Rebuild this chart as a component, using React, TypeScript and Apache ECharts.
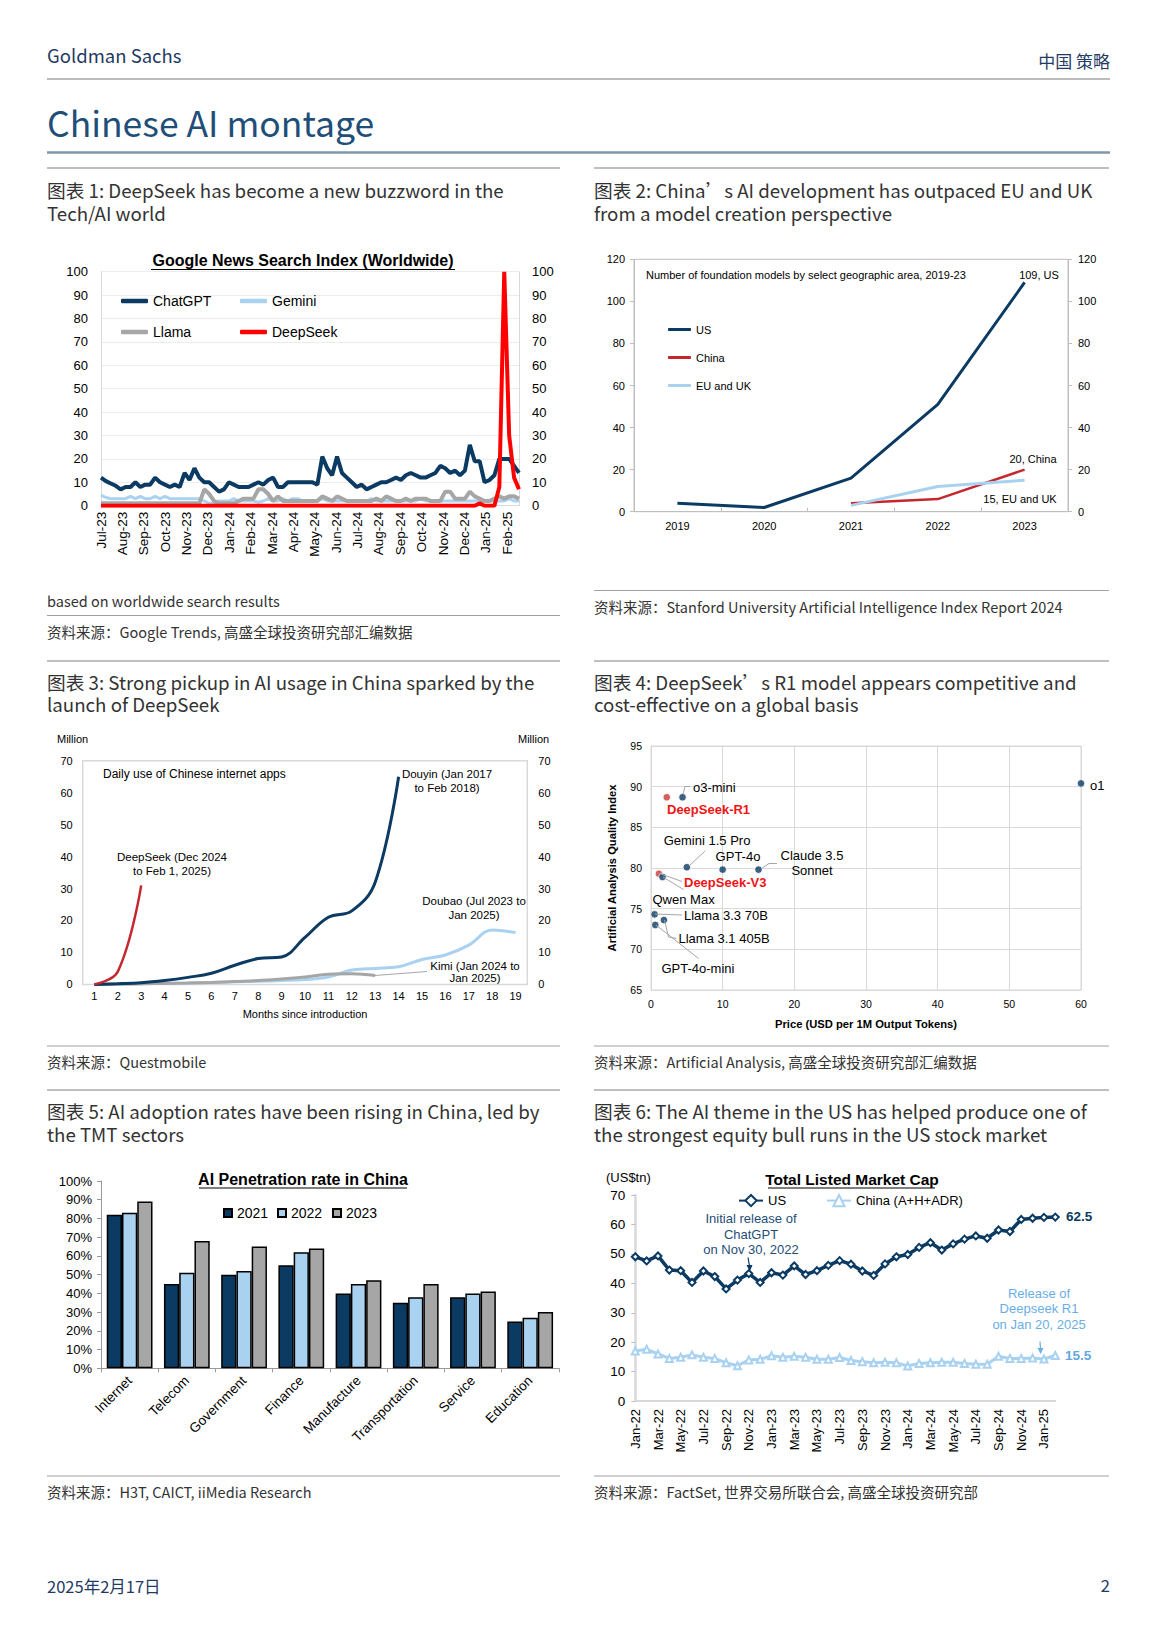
import React, { useEffect, useRef } from "react";
import * as echarts from "echarts";

const ARIAL = "'Liberation Sans', Arial, sans-serif";
const CJK = "'Noto Sans CJK SC', 'Noto Sans', sans-serif";
const NAVY = "#0b3a62";
const LBLUE = "#a9d2f0";
const GRAY = "#a6a6a6";
const RED = "#ff0000";

// ---------- Chart 1: Google News Search Index (weekly, Jul-23 .. Feb-25) ----------
const GN_MONTHS = ["Jul-23", "Aug-23", "Sep-23", "Oct-23", "Nov-23", "Dec-23", "Jan-24", "Feb-24", "Mar-24", "Apr-24", "May-24", "Jun-24", "Jul-24", "Aug-24", "Sep-24", "Oct-24", "Nov-24", "Dec-24", "Jan-25", "Feb-25"];
const GN_CHATGPT = [
  12, 10.5, 9.5, 8.5, 7, 8, 8, 10, 8, 9,
  9, 12, 10, 9, 8, 9, 8, 14, 11, 16,
  12, 10, 10, 8, 6, 7, 10, 9, 8, 8,
  8, 9, 10, 9, 11, 12, 8, 8, 10, 10,
  10, 10, 10, 10, 9, 21, 16, 13, 21, 14,
  12, 10, 8, 9, 7, 8, 9, 10, 10, 11,
  12, 11, 13, 14, 13, 12, 12, 13, 14, 17,
  16, 14, 15, 13, 15, 26, 19, 19, 10, 11,
  13, 20, 20, 20, 17, 14,
];
const GN_GEMINI = [
  4.5, 3.5, 3, 3, 3, 3, 4, 3, 4, 3,
  3, 4, 3, 4, 3, 3, 3, 3, 3, 3,
  3, 2, 1, 1, 2, 2, 2, 3, 2, 2,
  2, 2, 1.5, 2, 3, 2, 2, 3, 2, 3,
  3, 2, 2, 2, 2, 3, 2, 2, 2, 2,
  2, 2, 2, 2, 2, 3, 2, 2, 2, 2,
  2, 2, 2, 2, 2, 3, 2, 2, 2, 2,
  2, 2, 2, 2, 2, 2, 2, 2, 2, 2,
  2, 2, 2, 3, 2, 2,
];
const GN_LLAMA = [
  1, 1, 1, 1, 1, 1, 1, 1, 1, 1,
  1, 1, 1, 1, 1, 1, 1, 1, 1, 1,
  1, 7, 5, 2, 1, 1, 1, 1, 2, 3,
  3, 3, 7, 7, 5, 2, 4, 2, 2, 2,
  2, 2, 2, 2, 2, 4, 3, 2, 4, 3,
  2, 2, 2, 2, 2, 2, 3, 2, 4, 3,
  2, 2, 3, 2, 3, 3, 3, 2, 2, 2,
  6, 6, 3, 3, 3, 6, 4, 3, 2, 2,
  3, 4, 3, 4, 4, 3,
];
const GN_DEEPSEEK = [
  0, 0, 0, 0, 0, 0, 0, 0, 0, 0,
  0, 0, 0, 0, 0, 0, 0, 0, 0, 0,
  0, 0, 0, 0, 0, 0, 0, 0, 0, 0,
  0, 0, 0, 0, 0, 0, 0, 0, 0, 0,
  0, 0, 0, 0, 0, 0, 0, 0, 0, 0,
  0, 0, 0, 0, 0, 0, 0, 0, 0, 0,
  0, 0, 0, 0, 0, 0, 0, 0, 0, 0,
  0, 0, 0, 0, 0, 0, 0, 1, 0, 0,
  0, 8, 100, 30, 12, 7,
];
const DAYS_PER_MONTH = 30.4375;

// ---------- Chart 2: foundation models ----------
const FM_YEARS = ["2019", "2020", "2021", "2022", "2023"];
const FM_US = [4, 2, 16, 51, 109];
const FM_CHINA = [null, null, 4, 6, 20];
const FM_EU = [null, null, 3, 12, 15];

// ---------- Chart 3: daily use of Chinese apps ----------
const APP_MONTHS = ["1", "2", "3", "4", "5", "6", "7", "8", "9", "10", "11", "12", "13", "14", "15", "16", "17", "18", "19"];
const APP_DEEPSEEK = [0, 4, 31];
const APP_DOUYIN = [0, 0.2, 0.5, 1.2, 2.2, 3.5, 6, 8.1, 8.6, 14.7, 21, 23, 32, 65];
const APP_DOUBAO = [0, 0.1, 0.2, 0.3, 0.4, 0.6, 0.8, 1.0, 1.2, 1.5, 2.3, 4.5, 5.0, 5.5, 7.8, 9.2, 12.3, 17, 16.2];
const APP_KIMI = [0, 0.1, 0.2, 0.3, 0.4, 0.6, 0.9, 1.2, 1.7, 2.3, 3.2, 3.3, 2.8];

// ---------- Chart 4: model quality vs price ----------
const MODELS = ["o1", "o3-mini", "DeepSeek-R1", "Gemini 1.5 Pro", "GPT-4o", "Claude 3.5 Sonnet", "DeepSeek-V3", "Qwen Max", "Llama 3.3 70B", "Llama 3.1 405B", "GPT-4o-mini"];
const PRICE = [60, 4.4, 2.2, 5.0, 10.0, 15.0, 1.1, 1.6, 0.5, 1.8, 0.6];
const QUALITY = [90.4, 88.7, 88.7, 80.1, 79.8, 79.8, 79.3, 78.9, 74.3, 73.6, 73.0];

// ---------- Chart 5: AI penetration ----------
const SECTORS = ["Internet", "Telecom", "Government", "Finance", "Manufacture", "Transportation", "Service", "Education"];
const PEN_2021 = [82, 45, 50, 55, 40, 35, 38, 25];
const PEN_2022 = [83, 51, 52, 62, 45, 38, 40, 27];
const PEN_2023 = [89, 68, 65, 64, 47, 45, 41, 30];

// ---------- Chart 6: total listed market cap ----------
const MC_MONTH_NAMES = ["Jan", "Feb", "Mar", "Apr", "May", "Jun", "Jul", "Aug", "Sep", "Oct", "Nov", "Dec"];
const MC_YEARS = ["22", "23", "24", "25"];
const MC_US = [
  49, 47.6, 49.3, 44.5, 44.3, 40.3, 44.2, 42.3, 38.1, 41.1, 43.3, 40.3,
  43.6, 42.8, 45.9, 43.0, 44.3, 46.1, 47.7, 46.5, 44.2, 42.7, 46.6, 49.0,
  49.8, 52.2, 53.8, 51.3, 53.4, 55.0, 56.1, 55.3, 58.1, 57.6, 61.7, 62.1,
  62.4, 62.5,
];
const MC_CHINA = [
  17.0, 17.6, 16.0, 14.5, 14.9, 15.7, 14.9, 14.5, 13.0, 12.0, 14.0, 14.2,
  15.4, 14.9, 15.2, 14.9, 14.2, 14.2, 14.8, 13.8, 13.4, 13.0, 13.2, 13.0,
  11.9, 12.8, 13.0, 13.2, 13.2, 12.8, 12.5, 12.5, 15.2, 14.5, 14.5, 14.6,
  14.3, 15.5,
];
const MC_MONTHS: string[] = [];
MC_YEARS.forEach((y) => MC_MONTH_NAMES.forEach((m) => MC_MONTHS.push(m + "-" + y)));
MC_MONTHS.length = MC_US.length;

// ---------- graphic helpers ----------
type TO = { fill?: string; size?: number; family?: string; weight?: string; align?: string; rotation?: number; lineHeight?: number };
const T = (x: number, y: number, text: string, o: TO = {}) => ({
  type: "text",
  x,
  y,
  rotation: o.rotation ?? 0,
  silent: true,
  z: 100,
  style: {
    text,
    fill: o.fill ?? "#000",
    fontSize: o.size ?? 13,
    fontFamily: o.family ?? ARIAL,
    fontWeight: o.weight ?? "normal",
    textAlign: o.align ?? "left",
    align: o.align ?? "left",
    textVerticalAlign: "middle",
    verticalAlign: "middle",
    lineHeight: o.lineHeight ?? Math.round((o.size ?? 13) * 1.15),
  },
});
const L = (x1: number, y1: number, x2: number, y2: number, stroke: string, w = 1) => ({
  type: "line",
  silent: true,
  z: 100,
  shape: { x1, y1, x2, y2 },
  style: { stroke, lineWidth: w },
});
const PL = (points: number[][], stroke: string, w = 1) => ({
  type: "polyline",
  silent: true,
  z: 100,
  shape: { points },
  style: { stroke, lineWidth: w, fill: null },
});
const PG = (points: number[][], fill: string) => ({
  type: "polygon",
  silent: true,
  z: 100,
  shape: { points },
  style: { fill },
});

const PANEL_TXT = "#333333";
const HEAD_NAVY = "#1f3b63";

function pageGraphics() {
  const g: any[] = [];
  // header
  g.push(T(47, 55, "Goldman Sachs", { family: CJK, size: 18.5, fill: HEAD_NAVY }));
  g.push(T(1110, 60, "中国 策略", { family: CJK, size: 17, fill: HEAD_NAVY, align: "right" }));
  g.push(L(47, 79, 1110, 79, "#a6a6a6", 1.5));
  g.push(T(47, 121, "Chinese AI montage", { family: CJK, size: 35.5, fill: "#1f4e79" }));
  g.push(L(47, 152.5, 1110, 152.5, "#7f96ab", 2.5));

  const LX = 47, LX2 = 560, RX = 594, RX2 = 1109;
  const title = (x: number, y1: number, a: string, b: string) => {
    g.push(T(x, y1 + 11.25, a + "\n" + b, { family: CJK, size: 18.7, fill: PANEL_TXT, lineHeight: 22.5 }));
  };
  const src = (x: number, y: number, s: string) => g.push(T(x, y, s, { family: CJK, size: 14.5, fill: PANEL_TXT }));

  // row 1
  g.push(L(LX, 168, LX2, 168, "#bfbfbf", 2));
  g.push(L(RX, 168, RX2, 168, "#bfbfbf", 2));
  title(LX, 189.5, "图表 1: DeepSeek has become a new buzzword in the", "Tech/AI world");
  title(RX, 189.5, "图表 2: China’s AI development has outpaced EU and UK", "from a model creation perspective");
  src(LX, 600, "based on worldwide search results");
  g.push(L(LX, 615.5, LX2, 615.5, "#a0a0a0", 1));
  src(LX, 631, "资料来源：Google Trends, 高盛全球投资研究部汇编数据");
  g.push(L(RX, 590.5, RX2, 590.5, "#a0a0a0", 1));
  src(RX, 606, "资料来源：Stanford University Artificial Intelligence Index Report 2024");

  // row 2
  g.push(L(LX, 661, LX2, 661, "#bfbfbf", 2));
  g.push(L(RX, 661, RX2, 661, "#bfbfbf", 2));
  title(LX, 681, "图表 3: Strong pickup in AI usage in China sparked by the", "launch of DeepSeek");
  title(RX, 681, "图表 4: DeepSeek’s R1 model appears competitive and", "cost-effective on a global basis");
  g.push(L(LX, 1046, LX2, 1046, "#a0a0a0", 1));
  g.push(L(RX, 1046, RX2, 1046, "#a0a0a0", 1));
  src(LX, 1061.5, "资料来源：Questmobile");
  src(RX, 1061.5, "资料来源：Artificial Analysis, 高盛全球投资研究部汇编数据");

  // row 3
  g.push(L(LX, 1090, LX2, 1090, "#bfbfbf", 2));
  g.push(L(RX, 1090, RX2, 1090, "#bfbfbf", 2));
  title(LX, 1110.5, "图表 5: AI adoption rates have been rising in China, led by", "the TMT sectors");
  title(RX, 1110.5, "图表 6: The AI theme in the US has helped produce one of", "the strongest equity bull runs in the US stock market");
  g.push(L(LX, 1476, LX2, 1476, "#a0a0a0", 1));
  g.push(L(RX, 1476, RX2, 1476, "#a0a0a0", 1));
  src(LX, 1491.5, "资料来源：H3T, CAICT, iiMedia Research");
  src(RX, 1491.5, "资料来源：FactSet, 世界交易所联合会, 高盛全球投资研究部");

  // footer
  g.push(T(47, 1586, "2025年2月17日", { family: CJK, size: 16.5, fill: HEAD_NAVY }));
  g.push(T(1110, 1585, "2", { family: CJK, size: 16.5, fill: HEAD_NAVY, align: "right" }));

  // chart 1 title
  g.push(T(303, 260, "Google News Search Index (Worldwide)", { size: 16, weight: "bold", align: "center" }));
  g.push(L(151, 269.5, 455, 269.5, "#000", 1.2));

  // chart 2 annotations
  g.push(T(646, 275, "Number of foundation models by select geographic area, 2019-23", { size: 11 }));
  g.push(T(1039, 274.5, "109, US", { size: 11, align: "center" }));
  g.push(T(1033, 459, "20, China", { size: 11, align: "center" }));
  g.push(T(1020, 498.5, "15, EU and UK", { size: 11, align: "center" }));

  // chart 3 annotations
  g.push(T(57, 739, "Million", { size: 11 }));
  g.push(T(518, 739, "Million", { size: 11 }));
  g.push(T(103, 773.5, "Daily use of Chinese internet apps", { size: 12 }));
  g.push(T(447, 781, "Douyin (Jan 2017\nto Feb 2018)", { size: 11.5, align: "center", lineHeight: 13.5 }));
  g.push(T(172, 864, "DeepSeek (Dec 2024\nto Feb 1, 2025)", { size: 11.5, align: "center", lineHeight: 13.5 }));
  g.push(T(474, 908, "Doubao (Jul 2023 to\nJan 2025)", { size: 11.5, align: "center", lineHeight: 14 }));
  g.push(T(475, 972, "Kimi (Jan 2024 to\nJan 2025)", { size: 11.5, align: "center", lineHeight: 12.5 }));
  g.push(L(375, 975.5, 427, 971.5, "#a6a6a6", 1));
  g.push(T(305, 1014, "Months since introduction", { size: 11, align: "center" }));

  // chart 4 labels
  const lead = "#a6a6a6";
  g.push(PL([[683, 794], [685, 786.5], [690, 786.5]], lead));
  g.push(T(693, 787, "o3-mini", { size: 13 }));
  g.push(T(667, 809.5, "DeepSeek-R1", { size: 13, weight: "bold", fill: "#f01414" }));
  g.push(L(689, 866, 705, 851, lead));
  g.push(T(707, 840, "Gemini 1.5 Pro", { size: 13, align: "center" }));
  g.push(T(738, 856.5, "GPT-4o", { size: 13, align: "center" }));
  g.push(PL([[762, 868], [769, 863.5], [777, 863.5]], lead));
  g.push(T(812, 863, "Claude 3.5\nSonnet", { size: 13, align: "center", lineHeight: 15 }));
  g.push(L(659.5, 873.5, 682, 881.5, lead));
  g.push(T(684, 882.5, "DeepSeek-V3", { size: 13, weight: "bold", fill: "#f01414" }));
  g.push(L(663, 877, 683.5, 889.5, lead));
  g.push(T(652.5, 899.5, "Qwen Max", { size: 13 }));
  g.push(L(655, 914, 682, 915, lead));
  g.push(T(684, 915.5, "Llama 3.3 70B", { size: 13 }));
  g.push(PL([[664.5, 920], [668.5, 937], [676.5, 938.5]], lead));
  g.push(T(678.5, 938.5, "Llama 3.1 405B", { size: 13 }));
  g.push(L(656, 925, 698.5, 958.5, lead));
  g.push(T(661.5, 968, "GPT-4o-mini", { size: 13 }));
  g.push(T(1090, 785, "o1", { size: 13 }));

  // chart 5 title
  g.push(T(303, 1179, "AI Penetration rate in China", { size: 16, weight: "bold", align: "center" }));
  g.push(L(199, 1188, 407, 1188, "#000", 1.2));

  // chart 6
  g.push(T(852, 1179, "Total Listed Market Cap", { size: 15.5, weight: "bold", align: "center" }));
  g.push(L(768, 1188, 935, 1188, "#000", 1.2));
  g.push(T(606, 1177, "(US$tn)", { size: 13 }));
  g.push(T(751, 1234, "Initial release of\nChatGPT\non Nov 30, 2022", { size: 13, align: "center", fill: "#1f4e79", lineHeight: 15.8 }));
  g.push(L(748, 1257.5, 749.5, 1266, NAVY, 1.2));
  g.push(PG([[746.5, 1265], [752.5, 1265], [749.8, 1271.5]], NAVY));
  g.push(T(1039, 1308.8, "Release of\nDeepseek R1\non Jan 20, 2025", { size: 13, align: "center", fill: "#6aaee5", lineHeight: 15.7 }));
  g.push(L(1040, 1341.5, 1040.5, 1349, "#6aaee5", 1.2));
  g.push(PG([[1037.5, 1348], [1043.5, 1348], [1040.6, 1354]], "#6aaee5"));
  g.push(T(1066, 1216, "62.5", { size: 13.5, weight: "bold", fill: NAVY }));
  g.push(T(1065, 1355, "15.5", { size: 13.5, weight: "bold", fill: "#63a7e0" }));
  return g;
}

const lab = (size: number, margin: number, extra: any = {}) => ({
  fontSize: size,
  color: "#000",
  fontFamily: ARIAL,
  margin,
  ...extra,
});

function buildOption(): any {
  const gnX = (arr: number[]) => arr.map((v, i) => [(i * 7) / DAYS_PER_MONTH, v]);
  const gnMax = ((GN_CHATGPT.length - 1) * 7) / DAYS_PER_MONTH;

  const legendBase = (name: string, label: string, left: number, top: number, size: number, iw: number, ih: number, extra: any = {}) => ({
    data: [name],
    left,
    top,
    padding: 0,
    itemGap: 0,
    itemWidth: iw,
    itemHeight: ih,
    selectedMode: false,
    formatter: () => label,
    textStyle: { fontSize: size, color: "#000", fontFamily: ARIAL },
    ...extra,
  });

  return {
    animation: false,
    backgroundColor: "#fff",
    textStyle: { fontFamily: ARIAL },
    grid: [
      { left: 101, top: 271.7, width: 418, height: 234, containLabel: false },
      { left: 634, top: 259.3, width: 434, height: 252.4, show: true, borderColor: "#bfbfbf", borderWidth: 1 },
      { left: 82.7, top: 760.7, width: 444.6, height: 223.7, show: true, borderColor: "#d9d9d9", borderWidth: 1.5 },
      { left: 651, top: 746, width: 430, height: 244, show: true, borderColor: "#d9d9d9", borderWidth: 1 },
      { left: 101, top: 1181, width: 457.8, height: 187.3 },
      { left: 635.3, top: 1195, width: 420, height: 206.1 },
    ],
    legend: [
      legendBase("ChatGPT", "ChatGPT", 121, 294, 14, 27, 4.5, { icon: "roundRect" }),
      legendBase("Gemini", "Gemini", 240, 294, 14, 27, 4.5, { icon: "roundRect" }),
      legendBase("Llama", "Llama", 121, 325, 14, 27, 4.5, { icon: "roundRect" }),
      legendBase("DeepSeek", "DeepSeek", 240, 325, 14, 27, 4.5, { icon: "roundRect" }),
      legendBase("US", "US", 668, 324, 11, 23, 3, { icon: "roundRect" }),
      legendBase("China", "China", 668, 352, 11, 23, 3, { icon: "roundRect" }),
      legendBase("EU and UK", "EU and UK", 668, 380, 11, 23, 3, { icon: "roundRect" }),
      legendBase("2021", "2021", 223, 1206, 14, 8, 8, { icon: "rect" }),
      legendBase("2022", "2022", 277, 1206, 14, 8, 8, { icon: "rect" }),
      legendBase("2023", "2023", 332, 1206, 14, 8, 8, { icon: "rect" }),
      legendBase("US cap", "US", 738, 1194, 13, 24, 14),
      legendBase("China cap", "China (A+H+ADR)", 826, 1194, 13, 24, 14),
    ],
    xAxis: [
      {
        gridIndex: 0,
        type: "value",
        min: 0,
        max: gnMax,
        interval: 1,
        axisLine: { show: true, lineStyle: { color: "#d9d9d9" } },
        axisTick: { show: false },
        splitLine: { show: false },
        axisLabel: lab(13.5, 6, { rotate: 90, formatter: (v: number) => GN_MONTHS[Math.round(v)] ?? "" }),
      },
      {
        gridIndex: 1,
        type: "category",
        data: FM_YEARS,
        boundaryGap: true,
        axisLine: { show: true, lineStyle: { color: "#bfbfbf" } },
        axisTick: { show: true, inside: true, length: 4, lineStyle: { color: "#bfbfbf" } },
        axisLabel: lab(11, 9),
      },
      {
        gridIndex: 2,
        type: "category",
        data: APP_MONTHS,
        boundaryGap: true,
        axisLine: { show: false },
        axisTick: { show: false },
        axisLabel: lab(11, 6, { interval: 0 }),
      },
      {
        gridIndex: 3,
        type: "value",
        min: 0,
        max: 60,
        interval: 10,
        axisLine: { show: true, lineStyle: { color: "#d9d9d9" } },
        axisTick: { show: false },
        splitLine: { show: true, lineStyle: { color: "#d9d9d9" } },
        axisLabel: lab(10.5, 8),
        name: "Price (USD per 1M Output Tokens)",
        nameLocation: "middle",
        nameGap: 28,
        nameTextStyle: { fontSize: 11.2, fontWeight: "bold", color: "#000", fontFamily: ARIAL },
      },
      {
        gridIndex: 4,
        type: "category",
        data: SECTORS,
        axisLine: { show: true, lineStyle: { color: "#999" } },
        axisTick: { show: true, length: 4, lineStyle: { color: "#999" } },
        axisLabel: lab(13.5, 10, { rotate: 45, interval: 0 }),
      },
      {
        gridIndex: 5,
        type: "category",
        data: MC_MONTHS,
        boundaryGap: false,
        axisLine: { show: true, lineStyle: { color: "#d9d9d9", width: 2 } },
        axisTick: { show: false },
        axisLabel: lab(13, 8, { rotate: 90, interval: 1 }),
      },
    ],
    yAxis: [
      {
        gridIndex: 0,
        type: "value",
        min: 0,
        max: 100,
        interval: 10,
        position: "left",
        axisLine: { show: true, lineStyle: { color: "#d9d9d9" } },
        axisTick: { show: false },
        splitLine: { show: true, lineStyle: { color: "#ececec" } },
        axisLabel: lab(13, 13),
      },
      {
        gridIndex: 0,
        type: "value",
        min: 0,
        max: 100,
        interval: 10,
        position: "right",
        axisLine: { show: true, lineStyle: { color: "#d9d9d9" } },
        axisTick: { show: false },
        splitLine: { show: false },
        axisLabel: lab(13, 13),
      },
      {
        gridIndex: 1,
        type: "value",
        min: 0,
        max: 120,
        interval: 20,
        position: "left",
        axisLine: { show: true, lineStyle: { color: "#bfbfbf" } },
        axisTick: { show: true, length: 4, lineStyle: { color: "#bfbfbf" } },
        splitLine: { show: false },
        axisLabel: lab(11, 9),
      },
      {
        gridIndex: 1,
        type: "value",
        min: 0,
        max: 120,
        interval: 20,
        position: "right",
        axisLine: { show: true, lineStyle: { color: "#bfbfbf" } },
        axisTick: { show: true, length: 4, lineStyle: { color: "#bfbfbf" } },
        splitLine: { show: false },
        axisLabel: lab(11, 10),
      },
      {
        gridIndex: 2,
        type: "value",
        min: 0,
        max: 70,
        interval: 10,
        position: "left",
        axisLine: { show: false },
        axisTick: { show: false },
        splitLine: { show: false },
        axisLabel: lab(11, 10),
      },
      {
        gridIndex: 2,
        type: "value",
        min: 0,
        max: 70,
        interval: 10,
        position: "right",
        axisLine: { show: false },
        axisTick: { show: false },
        splitLine: { show: false },
        axisLabel: lab(11, 11),
      },
      {
        gridIndex: 3,
        type: "value",
        min: 65,
        max: 95,
        interval: 5,
        axisLine: { show: true, lineStyle: { color: "#d9d9d9" } },
        axisTick: { show: false },
        splitLine: { show: true, lineStyle: { color: "#d9d9d9" } },
        axisLabel: lab(10.5, 9),
        name: "Artificial Analysis Quality Index",
        nameLocation: "middle",
        nameRotate: 90,
        nameGap: 34,
        nameTextStyle: { fontSize: 11.2, fontWeight: "bold", color: "#000", fontFamily: ARIAL },
      },
      {
        gridIndex: 4,
        type: "value",
        min: 0,
        max: 100,
        interval: 10,
        axisLine: { show: true, lineStyle: { color: "#999" } },
        axisTick: { show: true, length: 4, lineStyle: { color: "#999" } },
        splitLine: { show: false },
        axisLabel: lab(13, 9, { formatter: "{value}%" }),
      },
      {
        gridIndex: 5,
        type: "value",
        min: 0,
        max: 70,
        interval: 10,
        axisLine: { show: true, lineStyle: { color: "#d9d9d9", width: 2.5 } },
        axisTick: { show: true, length: 4, lineStyle: { color: "#bfbfbf" } },
        splitLine: { show: false },
        axisLabel: lab(13.5, 10),
      },
    ],
    series: [
      // chart 1
      { name: "Gemini", type: "line", xAxisIndex: 0, yAxisIndex: 0, symbol: "none", lineStyle: { width: 3, color: LBLUE }, itemStyle: { color: LBLUE }, data: gnX(GN_GEMINI) },
      { name: "Llama", type: "line", xAxisIndex: 0, yAxisIndex: 0, symbol: "none", lineStyle: { width: 4, color: GRAY }, itemStyle: { color: GRAY }, data: gnX(GN_LLAMA) },
      { name: "ChatGPT", type: "line", xAxisIndex: 0, yAxisIndex: 0, symbol: "none", lineStyle: { width: 4, color: NAVY }, itemStyle: { color: NAVY }, data: gnX(GN_CHATGPT) },
      { name: "DeepSeek", type: "line", xAxisIndex: 0, yAxisIndex: 0, symbol: "none", lineStyle: { width: 4, color: RED }, itemStyle: { color: RED }, data: gnX(GN_DEEPSEEK) },
      // chart 2
      { name: "US", type: "line", xAxisIndex: 1, yAxisIndex: 2, symbol: "none", lineStyle: { width: 3, color: NAVY }, itemStyle: { color: NAVY }, data: FM_US },
      { name: "China", type: "line", xAxisIndex: 1, yAxisIndex: 2, symbol: "none", lineStyle: { width: 2.5, color: "#c4282e" }, itemStyle: { color: "#c4282e" }, data: FM_CHINA },
      { name: "EU and UK", type: "line", xAxisIndex: 1, yAxisIndex: 2, symbol: "none", lineStyle: { width: 3, color: LBLUE }, itemStyle: { color: LBLUE }, data: FM_EU },
      // chart 3
      { name: "Doubao", type: "line", xAxisIndex: 2, yAxisIndex: 4, symbol: "none", smooth: 0.4, lineStyle: { width: 3, color: LBLUE }, data: APP_DOUBAO },
      { name: "Kimi", type: "line", xAxisIndex: 2, yAxisIndex: 4, symbol: "none", smooth: 0.4, lineStyle: { width: 3, color: GRAY }, data: APP_KIMI },
      { name: "Douyin", type: "line", xAxisIndex: 2, yAxisIndex: 4, symbol: "none", smooth: 0.4, lineStyle: { width: 3, color: NAVY }, data: APP_DOUYIN },
      { name: "DeepSeek app", type: "line", xAxisIndex: 2, yAxisIndex: 4, symbol: "none", smooth: 0.4, lineStyle: { width: 2.5, color: "#c4282e" }, data: APP_DEEPSEEK },
      // chart 4
      {
        name: "Models",
        type: "scatter",
        xAxisIndex: 3,
        yAxisIndex: 6,
        symbolSize: 7.5,
        data: PRICE.map((p, i) => [p, QUALITY[i]]),
        itemStyle: {
          color: (p: any) => (MODELS[p.dataIndex].startsWith("DeepSeek") ? "#c8393b" : NAVY),
          borderColor: "#fff",
          borderWidth: 1,
        },
      },
      // chart 5
      { name: "2021", type: "bar", xAxisIndex: 4, yAxisIndex: 7, barGap: "0%", barCategoryGap: "20%", itemStyle: { color: NAVY, borderColor: "#000", borderWidth: 1.5 }, data: PEN_2021 },
      { name: "2022", type: "bar", xAxisIndex: 4, yAxisIndex: 7, barGap: "0%", barCategoryGap: "20%", itemStyle: { color: LBLUE, borderColor: "#000", borderWidth: 1.5 }, data: PEN_2022 },
      { name: "2023", type: "bar", xAxisIndex: 4, yAxisIndex: 7, barGap: "0%", barCategoryGap: "20%", itemStyle: { color: GRAY, borderColor: "#000", borderWidth: 1.5 }, data: PEN_2023 },
      // chart 6
      {
        name: "China cap",
        type: "line",
        xAxisIndex: 5,
        yAxisIndex: 8,
        symbol: "triangle",
        symbolSize: 7,
        showAllSymbol: true,
        lineStyle: { width: 3, color: LBLUE },
        itemStyle: { color: "#fff", borderColor: LBLUE, borderWidth: 2 },
        data: MC_CHINA,
      },
      {
        name: "US cap",
        type: "line",
        xAxisIndex: 5,
        yAxisIndex: 8,
        symbol: "diamond",
        symbolSize: 7,
        showAllSymbol: true,
        lineStyle: { width: 3.5, color: NAVY },
        itemStyle: { color: "#fff", borderColor: NAVY, borderWidth: 2 },
        data: MC_US,
      },
    ],
    graphic: { elements: pageGraphics() },
  };
}

export default function App() {
  const ref = useRef<HTMLDivElement>(null);
  useEffect(() => {
    if (!ref.current) return;
    const chart = echarts.init(ref.current, null, { renderer: "svg" });
    chart.setOption(buildOption());
    return () => chart.dispose();
  }, []);
  return (
    <div
      ref={ref}
      style={{ position: "absolute", left: 0, top: 0, width: 1157, height: 1650, background: "#fff" }}
    />
  );
}
